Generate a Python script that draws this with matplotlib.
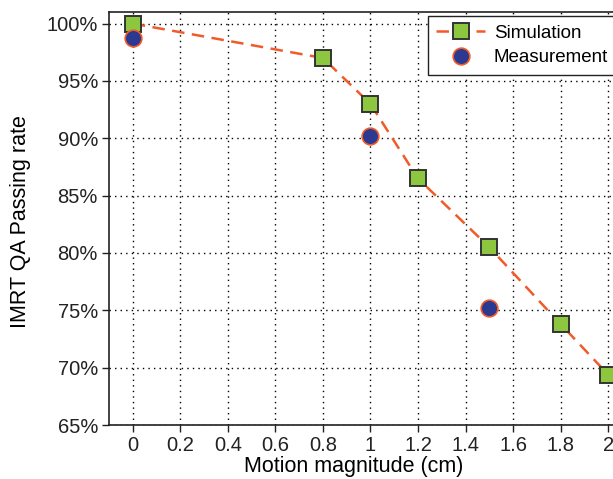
import matplotlib
matplotlib.use("Agg")
import matplotlib.pyplot as plt
from matplotlib.ticker import FuncFormatter

plt.rcParams['font.family'] = ['Liberation Sans', 'DejaVu Sans']

# data
sim_x = [0, 0.8, 1.0, 1.2, 1.5, 1.8, 2.0]
sim_y = [100, 97.0, 93.0, 86.5, 80.5, 73.8, 69.4]
meas_x = [0, 1.0, 1.5]
meas_y = [98.7, 90.2, 75.2]
xticks = [0, 0.2, 0.4, 0.6, 0.8, 1, 1.2, 1.4, 1.6, 1.8, 2]
yticks = [65, 70, 75, 80, 85, 90, 95, 100]

fig = plt.figure(figsize=(6.13, 4.79), dpi=100)
ax = fig.add_axes([0.1778, 0.1127, 0.853, 0.862])

ax.plot(sim_x, sim_y, linestyle=(0, (5, 3)), color='#f15a29', linewidth=1.8,
        marker='s', markersize=11, markerfacecolor='#8dc63f',
        markeredgecolor='#333333', markeredgewidth=1.4, label='Simulation',
        zorder=3)
ax.plot(meas_x, meas_y, linestyle='none', marker='o', markersize=12,
        markerfacecolor='#2b3990', markeredgecolor='#f15a29',
        markeredgewidth=1.2, label='Measurement', zorder=4)

ax.set_xlim(-0.1, 2.1)
ax.set_ylim(65, 101)
ax.set_xticks(xticks)
ax.set_xticklabels(['0', '0.2', '0.4', '0.6', '0.8', '1', '1.2', '1.4',
                    '1.6', '1.8', '2'])
ax.set_yticks(yticks)
ax.yaxis.set_major_formatter(FuncFormatter(lambda v, p: '%d%%' % v))
ax.tick_params(direction='out', length=5, width=1, labelsize=14.5,
               colors='#222222', pad=3)
ax.grid(True, linestyle=(0, (1, 3)), color='black', linewidth=1.0)
for s in ax.spines.values():
    s.set_linewidth(1.2)
    s.set_color('#222222')

ax.set_xlabel('Motion magnitude (cm)', fontsize=15.5)
ax.set_ylabel('IMRT QA Passing rate', fontsize=15.5)
# label centred under the visible part of the axis, as in the reference
ax.xaxis.set_label_coords(354 / 613, 2 / 479, transform=fig.transFigure)
ax.xaxis.label.set_va('bottom')
ax.yaxis.set_label_coords(21 / 613, 1 - 222 / 479, transform=fig.transFigure)
ax.yaxis.label.set_va('center')

leg = ax.legend(loc='upper left', bbox_to_anchor=(428 / 613, 1 - 16 / 479),
                bbox_transform=fig.transFigure, fontsize=13.5, frameon=True,
                fancybox=False, edgecolor='#222222', framealpha=1,
                handlelength=2.6, borderpad=0.45, labelspacing=0.4,
                handletextpad=0.45, borderaxespad=0)
leg.get_frame().set_linewidth(1.0)

fig.savefig('out.png', dpi=100)
